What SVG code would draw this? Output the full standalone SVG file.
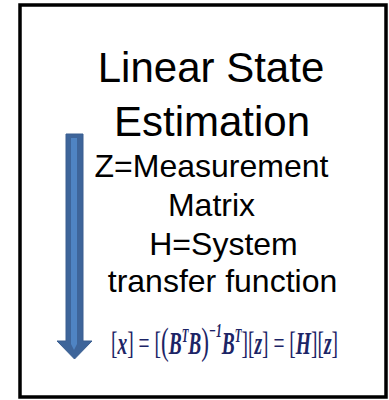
<svg xmlns="http://www.w3.org/2000/svg" width="389" height="400" viewBox="0 0 389 400">
<style>
.t{font-family:"Liberation Sans",Arial,sans-serif;fill:#000;text-anchor:middle}
.big{font-size:42px}
.mid{font-size:32px}
.eq{font-family:"Liberation Serif","Times New Roman",serif;font-style:italic;font-weight:bold;fill:#1c2466}
.up{font-style:normal;font-weight:normal}
</style>
<rect width="389" height="400" fill="#fff"/>
<g id="frame">
<rect x="20" y="5" width="366" height="392" fill="#fff" stroke="#000" stroke-width="3.5"/>
</g>
<g id="connectors">
<path d="M66,134 H83 V341 H92 L74.5,359 L57,341 H66 Z" fill="#3e659a" stroke="#3a5e90" stroke-width="1"/>
<path d="M71,138 H77 V344 L74,350 L71,344 Z" fill="#4f84c3"/>
</g>
<g id="title">
<text class="t big" x="211" y="82">Linear State</text>
<text class="t big" x="212" y="136">Estimation</text>
</g>
<g id="labels">
<text class="t mid" x="211.5" y="177">Z=Measurement</text>
<text class="t mid" x="211.5" y="216">Matrix</text>
<text class="t mid" x="223.5" y="255">H=System</text>
<text class="t mid" x="222.5" y="292">transfer function</text>
</g>
<g id="formula">
<text class="eq" x="111" y="354" font-size="32" textLength="227" lengthAdjust="spacingAndGlyphs"><tspan class="up">[</tspan>x<tspan class="up">] = [</tspan><tspan class="up" font-size="38">(</tspan>B<tspan dy="-12" font-size="18">T</tspan><tspan dy="12">B</tspan><tspan class="up" font-size="38">)</tspan><tspan dy="-17" font-size="19">−1</tspan><tspan dy="17">B</tspan><tspan dy="-12" font-size="18">T</tspan><tspan class="up" dy="12">][</tspan>z<tspan class="up">] = [</tspan>H<tspan class="up">][</tspan>z<tspan class="up">]</tspan></text>
</g>
</svg>
